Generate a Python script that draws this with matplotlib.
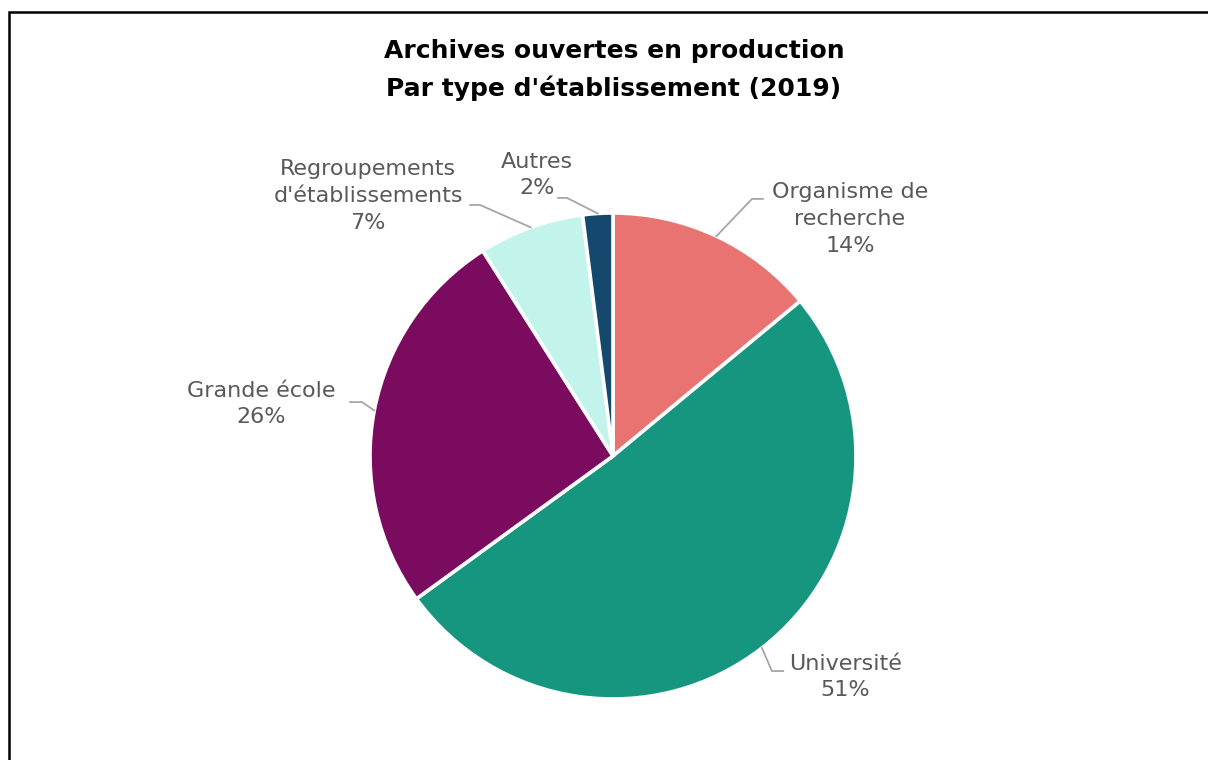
import matplotlib
matplotlib.use("Agg")
import matplotlib.pyplot as plt
from matplotlib.patches import Rectangle
import numpy as np

# Archives ouvertes en production, par type d'etablissement (2019)
labels = ["Organisme de\nrecherche", "Université", "Grande école",
          "Regroupements\nd'établissements", "Autres"]
values = [14, 51, 26, 7, 2]
colors = ["#E87371", "#16967F", "#7B0B5E", "#C3F4EC", "#14486C"]

# label placement (pie radius units): text centre, elbow, end of leader
text_pos = [(0.975, 0.975), (0.955, -0.909), (-1.449, 0.214), (-1.008, 1.070), (-0.313, 1.156)]
elbow_pos = [(0.572, 1.058), (0.654, -0.885), (-1.033, 0.222), (-0.547, 1.033), (-0.189, 1.062)]
end_pos = [(0.617, 1.058), (0.700, -0.885), (-1.082, 0.222), (-0.588, 1.033), (-0.226, 1.062)]

W, H = 1208, 760
fig = plt.figure(figsize=(W / 100, H / 100), dpi=100)
plt.rcParams['font.family'] = ['DejaVu Sans']

cx, cy, r = 613, H - 456, 243
ax = fig.add_axes([(cx - r) / W, (cy - r) / H, 2 * r / W, 2 * r / H])
wedges, _ = ax.pie(values, colors=colors, startangle=90, counterclock=False,
                   radius=1, wedgeprops=dict(edgecolor="white", linewidth=2.6))
ax.set_xlim(-1, 1)
ax.set_ylim(-1, 1)
ax.axis("off")

for w, lab, v, tp, ep, np_ in zip(wedges, labels, values, text_pos, elbow_pos, end_pos):
    mid = np.deg2rad((w.theta1 + w.theta2) / 2)
    ax.plot([np.cos(mid), ep[0], np_[0]], [np.sin(mid), ep[1], np_[1]],
            color="#A6A6A6", lw=1.3, clip_on=False)
    ax.text(tp[0], tp[1], f"{lab}\n{v}%", ha="center", va="center",
            fontsize=16, color="#595959", linespacing=1.42)

fig.text(614 / W, 1 - 70 / H, "Archives ouvertes en production\nPar type d'établissement (2019)",
         ha="center", va="center", fontsize=18, fontweight="bold", color="black",
         linespacing=1.6)

fig.patches.append(Rectangle((9 / W, -0.1), 1.2, (H - 12) / H + 0.1, transform=fig.transFigure,
                             fill=False, edgecolor="black", lw=1.8))

fig.savefig("out.png", dpi=100)
